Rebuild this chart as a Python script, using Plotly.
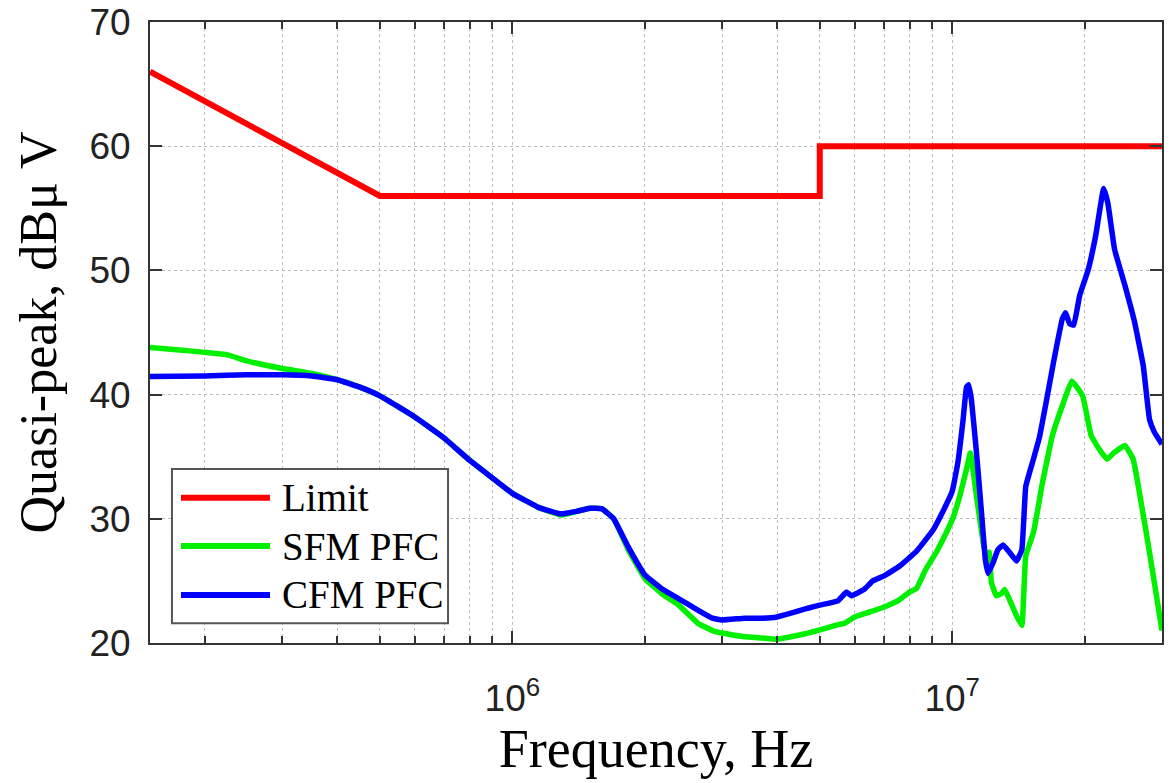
import plotly.graph_objects as go

# ---------------- data ----------------
limit_freq = [150e3, 500e3, 5e6, 5e6, 30e6]
limit_db = [66, 56, 56, 60, 60]

sfm_freq = [150e3, 175e3, 200e3, 225e3, 250e3, 300e3, 350e3, 400e3, 450e3, 500e3,
            600e3, 700e3, 800e3, 900e3, 1.0e6, 1.15e6, 1.29e6, 1.4e6, 1.5e6, 1.6e6,
            1.7e6, 1.83e6, 2.0e6, 2.2e6, 2.38e6, 2.64e6, 2.85e6, 3.0e6, 3.37e6, 3.7e6,
            4.0e6, 4.3e6, 4.7e6, 5.0e6, 5.4e6, 5.7e6, 6.0e6, 6.5e6, 7.0e6, 7.6e6,
            8.0e6, 8.3e6, 8.7e6, 9.2e6, 9.7e6, 1.0e7, 1.04e7, 1.078e7, 1.1e7, 1.136e7,
            1.176e7, 1.2e7, 1.214e7, 1.228e7, 1.26e7, 1.295e7, 1.317e7, 1.35e7, 1.4e7, 1.44e7,
            1.47e7, 1.53e7, 1.57e7, 1.6e7, 1.69e7, 1.78e7, 1.87e7, 1.98e7, 2.07e7, 2.16e7,
            2.25e7, 2.33e7, 2.47e7, 2.58e7, 2.69e7, 2.81e7, 3.0e7]
sfm_db = [43.8, 43.6, 43.4, 43.2, 42.7, 42.1, 41.7, 41.2, 40.6, 39.9,
          38.2, 36.5, 34.7, 33.3, 32.05, 30.9, 30.3, 30.6, 30.85, 30.8,
          30.0, 27.6, 25.2, 23.9, 23.1, 21.6, 21.0, 20.8, 20.5, 20.4,
          20.3, 20.5, 20.8, 21.05, 21.4, 21.6, 22.1, 22.5, 22.9, 23.5,
          24.1, 24.4, 25.9, 27.3, 28.9, 29.9, 31.8, 34.0, 35.3, 31.8,
          28.1, 26.5, 27.3, 24.9, 23.8, 24.0, 24.3, 23.5, 22.2, 21.4,
          27.0, 28.9, 31.0, 32.7, 36.7, 39.1, 41.1, 39.9, 36.7, 35.6,
          34.8, 35.3, 35.9, 34.8, 31.3, 27.3, 21.0]

cfm_freq = [150e3, 200e3, 250e3, 300e3, 350e3, 400e3, 450e3, 500e3, 600e3, 700e3,
            800e3, 900e3, 1.0e6, 1.15e6, 1.29e6, 1.4e6, 1.5e6, 1.6e6, 1.7e6, 1.83e6,
            2.0e6, 2.2e6, 2.38e6, 2.64e6, 2.85e6, 3.0e6, 3.37e6, 3.7e6, 4.0e6, 4.3e6,
            4.7e6, 5.0e6, 5.5e6, 5.75e6, 5.9e6, 6.3e6, 6.6e6, 7.0e6, 7.6e6, 8.3e6,
            9.05e6, 9.5e6, 1.0e7, 1.03e7, 1.059e7, 1.078e7, 1.09e7, 1.106e7, 1.136e7, 1.166e7,
            1.19e7, 1.207e7, 1.24e7, 1.27e7, 1.306e7, 1.35e7, 1.4e7, 1.44e7, 1.47e7, 1.53e7,
            1.58e7, 1.63e7, 1.70e7, 1.78e7, 1.81e7, 1.85e7, 1.89e7, 1.95e7, 2.04e7, 2.12e7,
            2.21e7, 2.26e7, 2.34e7, 2.47e7, 2.6e7, 2.72e7, 2.81e7, 2.88e7, 3.0e7]
cfm_db = [41.45, 41.5, 41.6, 41.6, 41.5, 41.2, 40.6, 39.9, 38.2, 36.5,
          34.7, 33.3, 32.05, 30.9, 30.4, 30.6, 30.85, 30.8, 30.0, 27.8,
          25.5, 24.3, 23.6, 22.65, 22.0, 21.85, 22.0, 22.0, 22.1, 22.4,
          22.8, 23.05, 23.4, 24.1, 23.8, 24.3, 25.0, 25.4, 26.2, 27.4,
          29.1, 30.5, 32.2, 34.5, 38.0, 40.6, 40.8, 39.6, 35.3, 30.5,
          26.7, 25.6, 26.5, 27.5, 27.9, 27.3, 26.6, 27.5, 32.6, 34.8,
          36.6, 39.1, 42.6, 46.1, 46.6, 45.7, 45.6, 48.0, 50.1, 52.8,
          56.6, 55.4, 51.7, 48.8, 45.8, 42.3, 38.0, 37.0, 36.0]

series_names = ["Limit", "SFM PFC", "CFM PFC"]
series_colors = ["#ff0000", "#00f000", "#0000ff"]

x_major_ticks = [1e6, 1e7]
x_major_text = ["10<sup>6</sup>", "10<sup>7</sup>"]
x_minor_ticks = [2e5, 3e5, 4e5, 5e5, 6e5, 7e5, 8e5, 9e5,
                 2e6, 3e6, 4e6, 5e6, 6e6, 7e6, 8e6, 9e6,
                 2e7, 3e7]
y_ticks = [20, 30, 40, 50, 60, 70]

x_title = "Frequency, Hz"
y_title = "Quasi-peak, dBμ V"

# ---------------- figure ----------------
SERIF = "Liberation Serif, Times New Roman, serif"
SANS = "Liberation Sans, Arial, sans-serif"

fig = go.Figure()
fig.add_trace(go.Scatter(x=limit_freq, y=limit_db, mode="lines", name=series_names[0],
                         line=dict(color=series_colors[0], width=6), showlegend=False))
fig.add_trace(go.Scatter(x=sfm_freq, y=sfm_db, mode="lines", name=series_names[1],
                         line=dict(color=series_colors[1], width=5.5, shape="spline", smoothing=0.3),
                         showlegend=False))
fig.add_trace(go.Scatter(x=cfm_freq, y=cfm_db, mode="lines", name=series_names[2],
                         line=dict(color=series_colors[2], width=5.5, shape="spline", smoothing=0.3),
                         showlegend=False))

# manual legend (box, line samples, labels)
lx0, lx1, ly0, ly1 = 0.0217, 0.2945, 0.032, 0.280
row_y = [0.234, 0.156, 0.0773]
shapes = [dict(type="rect", xref="paper", yref="paper", x0=lx0, x1=lx1, y0=ly0, y1=ly1,
               line=dict(color="#555555", width=2), fillcolor="white", layer="above")]
annotations = []
for name, col, yy in zip(series_names, series_colors, row_y):
    shapes.append(dict(type="line", xref="paper", yref="paper", x0=0.0306, x1=0.1186,
                       y0=yy, y1=yy, line=dict(color=col, width=6), layer="above"))
    annotations.append(dict(xref="paper", yref="paper", x=0.1280, y=yy, text=name,
                            showarrow=False, xanchor="left", yanchor="middle",
                            font=dict(family=SERIF, size=39, color="black")))

fig.update_layout(
    width=1171, height=783,
    margin=dict(l=150, r=9, t=22, b=140, autoexpand=False),
    paper_bgcolor="white", plot_bgcolor="white",
    shapes=shapes, annotations=annotations,
    showlegend=False,
)

axis_common = dict(
    showline=True, linecolor="#333333", linewidth=2, mirror="allticks",
    ticks="inside", tickcolor="#333333", tickwidth=2,
    showgrid=True, gridcolor="#bdbdbd", gridwidth=1, griddash="dot",
    zeroline=False, automargin=False,
    tickfont=dict(family=SANS, size=37, color="#222222"),
)

fig.update_xaxes(
    type="log", range=[5.1761, 7.4771],
    tickmode="array", tickvals=x_major_ticks, ticktext=x_major_text, ticklen=12,
    minor=dict(tickmode="array", tickvals=x_minor_ticks, ticks="inside", ticklen=7,
               tickcolor="#333333", tickwidth=1.5, showgrid=True, gridcolor="#bdbdbd",
               griddash="dot", gridwidth=1),
    title=dict(text=x_title, font=dict(family=SERIF, size=54, color="black"), standoff=2),
    ticklabelstandoff=22,
    **axis_common,
)
fig.update_yaxes(
    range=[20, 70], tickmode="array", tickvals=y_ticks, ticklen=12,
    title=dict(text=y_title, font=dict(family=SERIF, size=52, color="black"), standoff=16),
    ticklabelstandoff=10,
    **axis_common,
)

fig.write_html("out.html")
